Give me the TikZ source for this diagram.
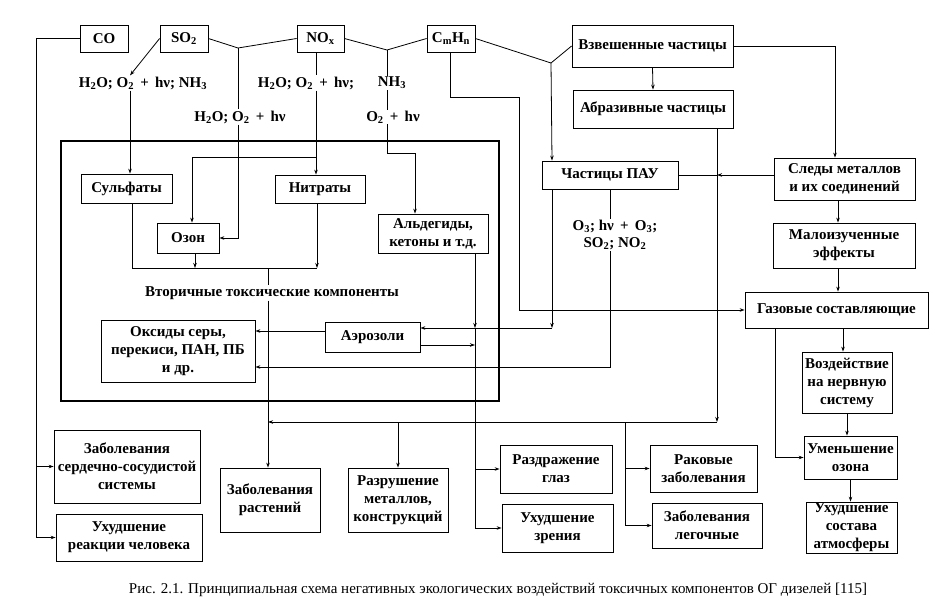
\documentclass[tikz,border=0pt]{standalone}
\usepackage{fontspec}
\setmainfont{Liberation Serif}
\usetikzlibrary{arrows.meta,calc}
\tikzset{
  box/.style={draw, line width=0.8pt, inner sep=0pt, align=center, font=\bfseries\fontsize{15}{18}\selectfont},
  lin/.style={line width=0.8pt},
  arr/.style={lin, -{Stealth[length=5pt,width=3.5pt]}},
  chem/.style={font=\bfseries\fontsize{15}{17}\selectfont, inner sep=1pt, fill=white, align=center},
}
\newcommand{\pls}{\ \,+\ \,}
\begin{document}
\begin{tikzpicture}[x=1pt,y=-1pt]
\fill[white] (0,0) rectangle (936,612);
\useasboundingbox (0,0) rectangle (936,612);
% big frame
\node[draw, line width=2.2pt, minimum width=438pt, minimum height=260pt, inner sep=0pt] (big) at (280,271) {};
% top row
\node[box, minimum width=48pt, minimum height=27pt] (co) at (104,38.5) {CO};
\node[box, minimum width=48pt, minimum height=27pt] (so2) at (184,38.5) {SO\textsubscript{2}};
\node[box, minimum width=47pt, minimum height=27pt] (nox) at (320.5,38.5) {NO\textsubscript{x}};
\node[box, minimum width=48pt, minimum height=27pt] (cmhn) at (451,38.5) {C\textsubscript{m}H\textsubscript{n}};
\node[box, minimum width=161pt, minimum height=42pt] (vzv) at (652.5,46) {Взвешенные частицы};
\node[box, minimum width=160pt, minimum height=38pt] (abr) at (653,109) {Абразивные частицы};
\node[box, minimum width=136pt, minimum height=28pt] (pau) at (610,175) {Частицы ПАУ};
\node[box, minimum width=141pt, minimum height=42pt] (sled) at (844.5,179) {Следы металлов\\и их соединений};
\node[box, minimum width=142pt, minimum height=45pt] (malo) at (844,245.5) {Малоизученные\\эффекты};
\node[box, minimum width=183pt, minimum height=36pt] (gaz) at (836.5,310) {Газовые составляющие};
\node[box, minimum width=90pt, minimum height=61pt] (vozd) at (847,382.5) {Воздействие\\на нервную\\систему};
\node[box, minimum width=93pt, minimum height=43pt] (umen) at (850.5,457.5) {Уменьшение\\озона};
\node[box, minimum width=91pt, minimum height=51pt] (uhsost) at (851.5,527.5) {Ухудшение\\состава\\атмосферы};
% inside frame
\node[box, minimum width=91pt, minimum height=29pt] (sulf) at (126.5,188.5) {Сульфаты};
\node[box, minimum width=62pt, minimum height=30pt] (ozon) at (188,238) {Озон};
\node[box, minimum width=90pt, minimum height=28pt] (nitr) at (320,189) {Нитраты};
\node[box, minimum width=110pt, minimum height=39pt] (ald) at (433,233.5) {Альдегиды,\\кетоны и т.д.};
\node[box, minimum width=154pt, minimum height=62pt] (oks) at (178,351) {Оксиды серы,\\перекиси, ПАН, ПБ\\и др.};
\node[box, minimum width=95pt, minimum height=30pt] (aer) at (372.5,337) {Аэрозоли};
% bottom
\node[box, minimum width=146pt, minimum height=73pt] (zss) at (127,466.5) {Заболевания\\сердечно-сосудистой\\системы};
\node[box, minimum width=146pt, minimum height=47pt] (uhr) at (129,537.5) {Ухудшение\\реакции человека};
\node[box, minimum width=100pt, minimum height=64pt] (zrast) at (270,500) {Заболевания\\растений};
\node[box, minimum width=100pt, minimum height=64pt] (razr) at (398,500) {Разрушение\\металлов,\\конструкций};
\node[box, minimum width=112pt, minimum height=48pt] (razdr) at (556,469) {Раздражение\\глаз};
\node[box, minimum width=111pt, minimum height=48pt] (uhzr) at (557.5,528) {Ухудшение\\зрения};
\node[box, minimum width=107pt, minimum height=47pt] (rak) at (703.5,468.5) {Раковые\\заболевания};
\node[box, minimum width=110pt, minimum height=45pt] (zleg) at (707,525.5) {Заболевания\\легочные};
% texts
\node[chem] (t1) at (143,83) {H\textsubscript{2}O; O\textsubscript{2}\pls hν; NH\textsubscript{3}};
\node[chem] (t2) at (240,117) {H\textsubscript{2}O; O\textsubscript{2}\pls hν};
\node[chem] (t3) at (306,83) {H\textsubscript{2}O; O\textsubscript{2}\pls hν;};
\node[chem] (t4) at (392,83) {NH\textsubscript{3}};
\node[chem] (t5) at (393,117) {O\textsubscript{2}\pls hν};
\node[chem] (t6) at (615,235) {O\textsubscript{3}; hν\pls O\textsubscript{3};\\SO\textsubscript{2}; NO\textsubscript{2}};
\node[chem] (t7) at (272,293) {Вторичные токсические компоненты};
\node[font=\fontsize{15}{17}\selectfont, inner sep=0pt] (cap) at (498,590) {Рис. 2.1. Принципиальная схема негативных экологических воздействий токсичных компонентов ОГ дизелей [115]};
% coordinates
\coordinate (j1) at (238,48);
\coordinate (j2) at (387,50);
\coordinate (j3) at (551,63);
\coordinate (L) at (36,38.5);
\coordinate (xa) at (130,0);
\coordinate (xn) at (316,0);
\coordinate (xb) at (316,157);
\coordinate (xo) at (192,157);
\coordinate (xk) at (387,153);
\coordinate (xk2) at (415,153);
\coordinate (xc) at (450,97);
\coordinate (xc2) at (519,97);
\coordinate (xp) at (552,0);
\coordinate (xv) at (717,0);
\coordinate (xs) at (838,0);
\coordinate (xs2) at (835,0);
\coordinate (xs3) at (843,0);
\coordinate (xal) at (475,0);
\coordinate (xsu) at (132,0);
\coordinate (xoz) at (195,0);
\coordinate (xni) at (317,0);
\coordinate (xr) at (268,0);
\coordinate (xm) at (398,0);
\coordinate (xrk) at (625,0);
\coordinate (xg) at (775,0);
\coordinate (y268) at (0,268);
\coordinate (y328) at (0,328);
\coordinate (y331) at (0,331);
\coordinate (y345) at (0,345);
\coordinate (y367) at (0,367);
\coordinate (y422) at (0,422);
% top links
\draw[lin] (so2.east) -- (j1) -- (nox.west);
\draw[lin] (nox.east) -- (j2) -- (cmhn.west);
\draw[lin] (cmhn.east) -- (j3) -- (vzv.west);
% CO
\draw[arr] (co.west) -- (L) |- (uhr.west);
\draw[arr] (L |- zss.west) -- (zss.west);
% SO2
\draw[arr] (so2.west) -- (xa |- t1.north);
\draw[arr] (xa |- t1.south) -- (xa |- sulf.north);
\draw[lin] (j1) -- (j1 |- t2.north);
\draw[arr] (j1 |- t2.south) |- (ozon.east);
% NOx
\draw[lin] (xn |- nox.south) -- (xn |- t3.north);
\draw[arr] (xn |- t3.south) -- (xn |- nitr.north);
\draw[arr] (xb) -| (xo |- ozon.north);
% NH3
\draw[lin] (j2) -- (j2 |- t4.north);
\draw[lin] (j2 |- t4.south) -- (j2 |- t5.north);
\draw[arr] (j2 |- t5.south) -- (xk) -- (xk2) -- (xk2 |- ald.north);
% CmHn
\draw[arr] (cmhn.south -| xc) -- (xc) -- (xc2) |- (gaz.west);
% particles
\draw[arr] (j3) -- (xp |- pau.north);
\draw[arr] (vzv.south) -- (abr.north);
\draw[arr] (vzv.east) -| (xs2 |- sled.north);
\draw[lin] (xv |- abr.south) -- (xv |- pau.east);
\draw[lin] (pau.east) -- (xv |- pau.east);
\draw[arr] (sled.west |- pau.east) -- (xv |- pau.east);
\draw[arr] (xv |- pau.east) -- (xv |- y422);
\draw[arr] (xv |- y422) -- (xr |- y422);
\draw[arr] (xm |- y422) -- (xm |- razr.north);
\draw[arr] (xrk |- y422) |- (zleg.west);
\draw[arr] (xrk |- rak.west) -- (rak.west);
% secondary collector
\draw[lin] (xsu |- sulf.south) |- (xni |- y268);
\draw[arr] (xoz |- ozon.south) -- (xoz |- y268);
\draw[arr] (xni |- nitr.south) -- (xni |- y268);
\draw[lin] (xr |- y268) -- (xr |- t7.north);
\draw[arr] (xr |- t7.south) -- (xr |- zrast.north);
% PAU
\draw[lin] (pau.south) -- (pau.south |- t6.north);
\draw[arr] (pau.south |- t6.south) |- (oks.east |- y367);
\draw[arr] (xp |- pau.south) -- (xp |- y328);
\draw[arr] (xp |- y328) -- (aer.east |- y328);
% aldehydes / aerosols
\draw[arr] (xal |- ald.south) -- (xal |- y328);
\draw[arr] (xal |- y328) |- (uhzr.west);
\draw[arr] (xal |- razdr.west) -- (razdr.west);
\draw[arr] (aer.east |- y345) -- (xal |- y345);
\draw[arr] (aer.west |- y331) -- (oks.east |- y331);
% right column
\draw[arr] (sled.south -| xs) -- (malo.north -| xs);
\draw[arr] (malo.south -| xs) -- (gaz.north -| xs);
\draw[arr] (gaz.south -| xs3) -- (vozd.north -| xs3);
\draw[arr] (vozd.south) -- (vozd.south |- umen.north);
\draw[arr] (umen.south) -- (umen.south |- uhsost.north);
\draw[arr] (gaz.south -| xg) |- (umen.west);
\end{tikzpicture}
\end{document}
